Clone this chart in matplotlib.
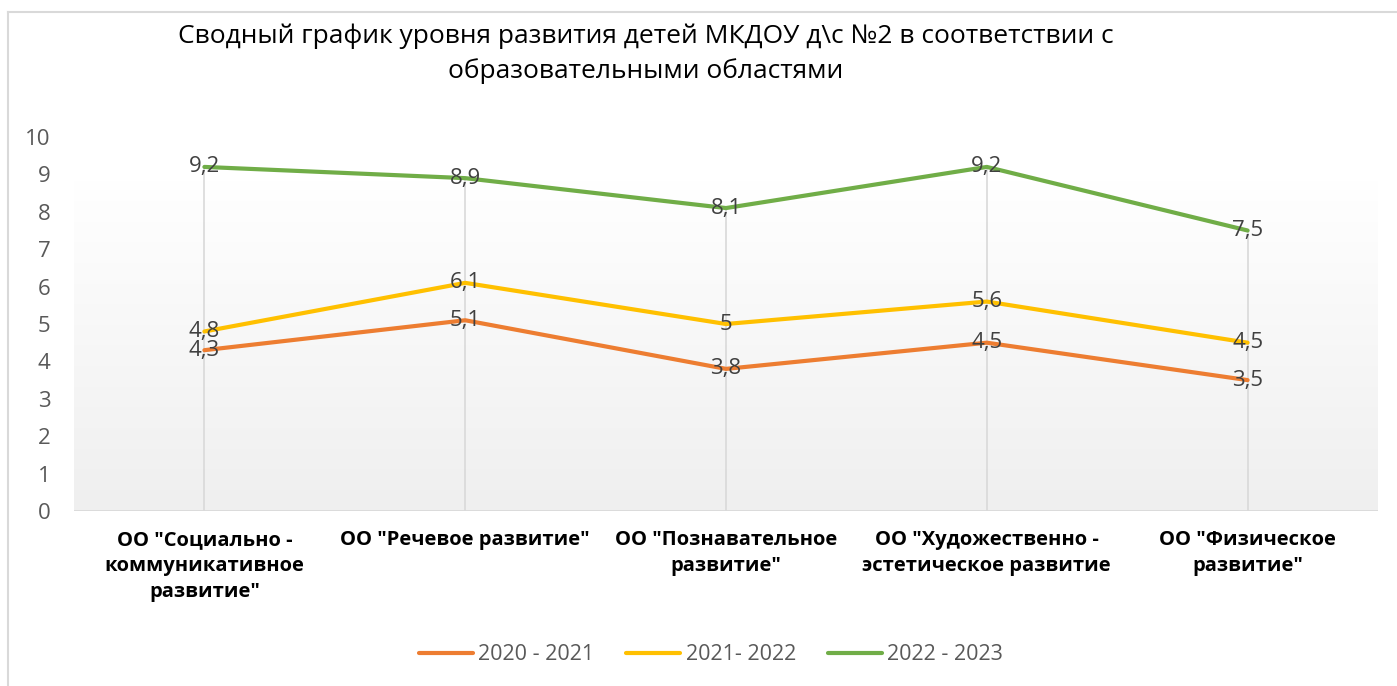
import matplotlib.pyplot as plt
import numpy as np
from matplotlib.lines import Line2D
from matplotlib.colors import LinearSegmentedColormap

plt.rcParams['font.family'] = ['Open Sans', 'DejaVu Sans']

categories = ['ОО "Социально -\nкоммуникативное\nразвитие"',
              'ОО "Речевое развитие"',
              'ОО "Познавательное\nразвитие"',
              'ОО "Художественно -\nэстетическое развитие',
              'ОО "Физическое\nразвитие"']
series_names = ['2020 - 2021', '2021- 2022', '2022 - 2023']
v2020 = [4.3, 5.1, 3.8, 4.5, 3.5]
v2021 = [4.8, 6.1, 5.0, 5.6, 4.5]
v2022 = [9.2, 8.9, 8.1, 9.2, 7.5]
colors = ['#ED7D31', '#FFC000', '#70AD47']
title = 'Сводный график уровня развития детей МКДОУ д\\с №2 в соответствии с\nобразовательными областями'

fig = plt.figure(figsize=(13.97, 6.86), dpi=100)
# outer frame (only left and top edges are visible in the reference)
fig.add_artist(Line2D([8/1397, 8/1397], [0, 1-12/686], color='#d9d9d9', lw=1.5))
fig.add_artist(Line2D([8/1397, 1], [1-12/686, 1-12/686], color='#d9d9d9', lw=1.5))

ax = fig.add_axes([74/1397, 1-511/686, (1378-74)/1397, (511-137)/686])
x = np.arange(len(categories))
ax.set_xlim(-0.5, 4.5)
ax.set_ylim(0, 10)

# gradient background (starts a little below the top of the plot area)
gtop = 10 * (511-180) / (511-137)
grad = np.linspace(0, 1, 256).reshape(-1, 1)
ax.imshow(grad, extent=(-0.5, 4.5, 0, gtop), aspect='auto', origin='upper',
          cmap=LinearSegmentedColormap.from_list('g', ['#ffffff', '#efefef']),
          zorder=0)

# drop lines
tops = np.max([v2020, v2021, v2022], axis=0)
ax.vlines(x, 0, tops, color='#d9d9d9', lw=1.2, zorder=1)
ax.axhline(0, color='#d9d9d9', lw=2, zorder=1)

handles = []
for vals, name, c in zip([v2020, v2021, v2022], series_names, colors):
    h, = ax.plot(x, vals, color=c, lw=3, label=name, solid_capstyle='round', zorder=3)
    handles.append(h)
    for xi, v in zip(x, vals):
        ax.text(xi, v, f'{v:g}'.replace('.', ','), ha='center', va='center',
                fontsize=16, color='#404040', zorder=4)

for s in ax.spines.values():
    s.set_visible(False)
ax.set_yticks(range(0, 11))
ax.tick_params(axis='y', length=0, labelsize=16, labelcolor='#595959', pad=17)
ax.set_xticks(x)
ax.set_xticklabels(categories, fontsize=14.5, fontweight='bold', color='#000000', linespacing=1.4)
ax.tick_params(axis='x', length=0, pad=14)

fig.text(646/1397, 1-54/686, title, ha='center', va='center', fontsize=19, color='#000000',
         linespacing=1.45)

fig.legend(handles=handles, labels=series_names, loc='center',
           bbox_to_anchor=(711/1397, 1-655/686), ncol=3, frameon=False, fontsize=15.5,
           labelcolor='#595959', handlelength=2.5, handletextpad=0.25, columnspacing=1.5)

fig.savefig('out.png', dpi=100)
